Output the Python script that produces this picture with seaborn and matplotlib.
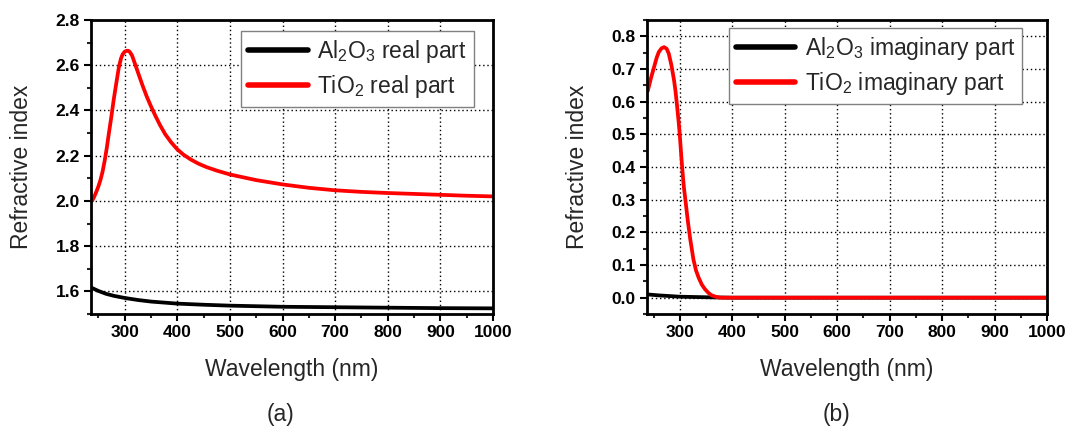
import numpy as np
import pandas as pd
import matplotlib
matplotlib.use("Agg")
import matplotlib.pyplot as plt
from matplotlib.ticker import MultipleLocator
import seaborn as sns

# Valeurs (longueur d'onde en nm)
wl_tio2_n = [238, 242, 246, 250, 254, 258, 262, 266, 270, 275, 279, 284, 289, 293, 296, 300,
             304, 307, 310, 314, 319, 326, 334, 342, 350, 358, 367, 377, 388, 400, 412, 425,
             440, 455, 475, 500, 550, 600, 650, 700, 750, 800, 850, 900, 950, 1000]
n_tio2 = [2.000, 2.018, 2.040, 2.064, 2.093, 2.130, 2.178, 2.235, 2.300, 2.378, 2.446, 2.520,
          2.592, 2.630, 2.648, 2.660, 2.664, 2.664, 2.658, 2.643, 2.610, 2.563, 2.510, 2.461,
          2.418, 2.378, 2.336, 2.295, 2.260, 2.228, 2.204, 2.184, 2.165, 2.150, 2.134, 2.117,
          2.092, 2.073, 2.058, 2.047, 2.040, 2.035, 2.031, 2.027, 2.023, 2.020]

wl_al2o3_n = [238, 250, 265, 280, 300, 325, 350, 400, 450, 500, 600, 700, 800, 900, 1000]
n_al2o3 = [1.615, 1.602, 1.589, 1.580, 1.571, 1.562, 1.555, 1.546, 1.541, 1.537, 1.532,
           1.530, 1.528, 1.526, 1.525]

wl_tio2_k = [239, 245, 251, 256, 260, 265, 270, 275, 279, 284, 289, 292, 295, 298, 300, 303,
             306, 308, 311, 315, 320, 326, 331, 336, 342, 348, 355, 361, 368, 377, 390, 420,
             500, 600, 700, 800, 900, 1000]
k_tio2 = [0.633, 0.672, 0.706, 0.735, 0.752, 0.763, 0.767, 0.762, 0.747, 0.712, 0.666, 0.630,
          0.584, 0.535, 0.498, 0.430, 0.370, 0.335, 0.295, 0.239, 0.178, 0.117, 0.083, 0.061,
          0.040, 0.026, 0.014, 0.007, 0.003, 0.000, 0.000, 0.000, 0.000, 0.000, 0.000, 0.000,
          0.000, 0.000]

wl_al2o3_k = [238, 260, 280, 300, 330, 360, 400, 500, 600, 800, 1000]
k_al2o3 = [0.010, 0.007, 0.005, 0.003, 0.002, 0.001, 0.000, 0.000, 0.000, 0.000, 0.000]

x_ticks = [300, 400, 500, 600, 700, 800, 900, 1000]
y_ticks_a = [1.6, 1.8, 2.0, 2.2, 2.4, 2.6, 2.8]
y_ticks_b = [0.0, 0.1, 0.2, 0.3, 0.4, 0.5, 0.6, 0.7, 0.8]

sns.set_style("ticks")
plt.rcParams["font.family"] = ["Liberation Sans", "DejaVu Sans"]
plt.rcParams["mathtext.fontset"] = "custom"
plt.rcParams["mathtext.rm"] = "Liberation Sans"
plt.rcParams["mathtext.it"] = "Liberation Sans:italic"
plt.rcParams["mathtext.bf"] = "Liberation Sans:bold"

fig = plt.figure(figsize=(10.72, 4.33), dpi=100)
ax1 = fig.add_axes([0.0849, 0.2748, 0.375, 0.679])
ax2 = fig.add_axes([0.6033, 0.2748, 0.3734, 0.679])


def style_axis(ax):
    ax.set_axisbelow(True)
    ax.grid(True, which="major", color="black", linestyle=(0, (1, 2)), linewidth=1.0)
    for s in ax.spines.values():
        s.set_linewidth(2.0)
        s.set_color("black")
        s.set_visible(True)
    ax.tick_params(which="major", direction="out", length=5, width=1.5,
                   top=False, right=False, colors="black", pad=3)
    ax.tick_params(which="minor", direction="out", length=3, width=1.5,
                   top=False, right=False)
    ax.set_xlabel("Wavelength (nm)", fontsize=16.5, labelpad=13)
    ax.set_ylabel("Refractive index", fontsize=16.5, labelpad=16)


def legend(ax, anchor):
    leg = ax.legend(loc="upper right", bbox_to_anchor=anchor, fontsize=16.5,
                    frameon=True, fancybox=False, edgecolor="#808080", framealpha=1,
                    handlelength=2.6, handletextpad=0.4, borderpad=0.3, labelspacing=0.35,
                    borderaxespad=0)
    leg.get_frame().set_linewidth(1.0)
    for h in leg.get_lines():
        h.set_linewidth(4)


def bold_ticks(ax, yticks):
    # graduations en dernier, pour garder le gras
    ax.set_xticks(x_ticks, labels=[str(v) for v in x_ticks], fontweight="bold", fontsize=12.5)
    ax.set_yticks(yticks, labels=[f"{v:.1f}" for v in yticks], fontweight="bold", fontsize=12.5)


# (a) partie réelle
sns.lineplot(x=wl_al2o3_n, y=n_al2o3, ax=ax1, color="black", lw=2.7,
             label="Al$_2$O$_3$ real part", estimator=None, sort=False)
sns.lineplot(x=wl_tio2_n, y=n_tio2, ax=ax1, color="#ff0000", lw=2.7,
             label="TiO$_2$ real part", estimator=None, sort=False)
ax1.set_xlim(236, 1000)
ax1.set_ylim(1.5, 2.8)
ax1.xaxis.set_minor_locator(MultipleLocator(50))
ax1.yaxis.set_minor_locator(MultipleLocator(0.1))
style_axis(ax1)
legend(ax1, (0.952, 0.962))

# (b) partie imaginaire
sns.lineplot(x=wl_al2o3_k, y=k_al2o3, ax=ax2, color="black", lw=2.7,
             label="Al$_2$O$_3$ imaginary part", estimator=None, sort=False)
sns.lineplot(x=wl_tio2_k, y=k_tio2, ax=ax2, color="#ff0000", lw=2.7,
             label="TiO$_2$ imaginary part", estimator=None, sort=False)
ax2.set_xlim(237, 1000)
ax2.set_ylim(-0.05, 0.85)
ax2.xaxis.set_minor_locator(MultipleLocator(50))
ax2.yaxis.set_minor_locator(MultipleLocator(0.05))
style_axis(ax2)
legend(ax2, (0.938, 0.972))

bold_ticks(ax1, y_ticks_a)
bold_ticks(ax2, y_ticks_b)

fig.text(0.2615, 0.042, "(a)", ha="center", va="center", fontsize=16.5)
fig.text(0.78, 0.042, "(b)", ha="center", va="center", fontsize=16.5)

fig.savefig("out.png", dpi=100)
